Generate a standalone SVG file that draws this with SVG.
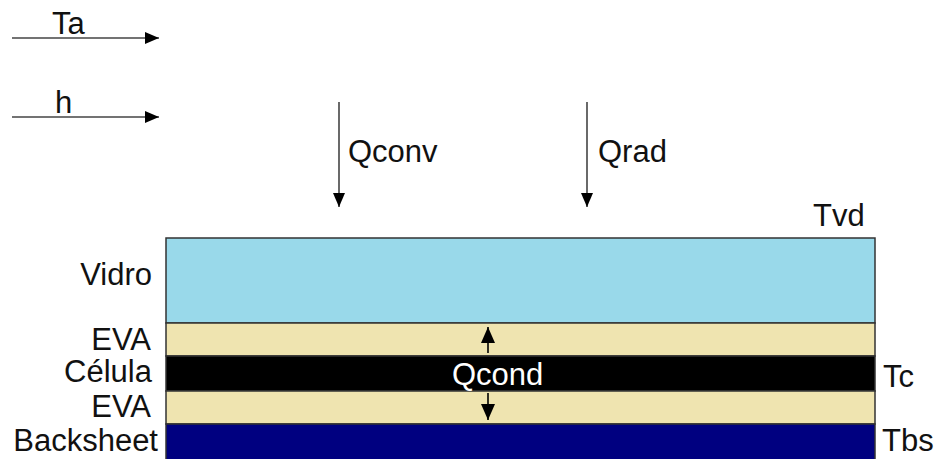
<svg xmlns="http://www.w3.org/2000/svg" width="937" height="459" viewBox="0 0 937 459">
<defs>
<style>
text{font-family:"Liberation Sans",Arial,sans-serif;font-size:31px;fill:#111}
.layer{stroke:#333;stroke-width:1.5}
.ln{stroke:#444;stroke-width:1.6;fill:none}
</style>
<marker id="ah" viewBox="0 0 14 12" refX="14" refY="6" markerWidth="14" markerHeight="12" markerUnits="userSpaceOnUse" orient="auto">
<path d="M0,0 L14,6 L0,12 Z" fill="#000"/>
</marker>
<marker id="ah2" viewBox="0 0 16 14" refX="16" refY="7" markerWidth="16" markerHeight="14" markerUnits="userSpaceOnUse" orient="auto">
<path d="M0,0 L16,7 L0,14 Z" fill="#000"/>
</marker>
</defs>
<rect width="937" height="459" fill="#fff"/>
<g id="vidro"><rect class="layer" x="166" y="238" width="709" height="85" fill="#99D9EA"/><text x="152" y="285" text-anchor="end">Vidro</text></g>
<g id="eva1"><rect class="layer" x="166" y="323" width="709" height="33" fill="#EFE4B0"/><text x="151" y="350" text-anchor="end">EVA</text></g>
<g id="celula"><rect class="layer" x="166" y="356" width="709" height="35" fill="#000"/><text x="152" y="382" text-anchor="end">Célula</text></g>
<g id="eva2"><rect class="layer" x="166" y="391" width="709" height="33" fill="#EFE4B0"/><text x="151" y="417" text-anchor="end">EVA</text></g>
<g id="backsheet"><rect class="layer" x="166" y="424" width="709" height="36" fill="#000080"/><text x="158" y="451" text-anchor="end">Backsheet</text></g>
<g id="labels">
<text x="52" y="34">Ta</text>
<text x="55" y="113">h</text>
<text x="348" y="162">Qconv</text>
<text x="598" y="162">Qrad</text>
<text x="813" y="226">Tvd</text>
<text x="883" y="387">Tc</text>
<text x="882" y="451">Tbs</text>
<text x="452" y="385" style="fill:#fff">Qcond</text>
</g>
<g id="connectors">
<line class="ln" x1="12" y1="38" x2="159" y2="38" marker-end="url(#ah)"/>
<line class="ln" x1="12" y1="117" x2="159" y2="117" marker-end="url(#ah)"/>
<line class="ln" x1="339" y1="102" x2="339" y2="207" marker-end="url(#ah)"/>
<line class="ln" x1="587" y1="102" x2="587" y2="207" marker-end="url(#ah)"/>
<line class="ln" x1="488" y1="353" x2="488" y2="327" marker-end="url(#ah2)" style="stroke:#000"/>
<line class="ln" x1="488" y1="393" x2="488" y2="420" marker-end="url(#ah2)" style="stroke:#000"/>
</g>
</svg>
